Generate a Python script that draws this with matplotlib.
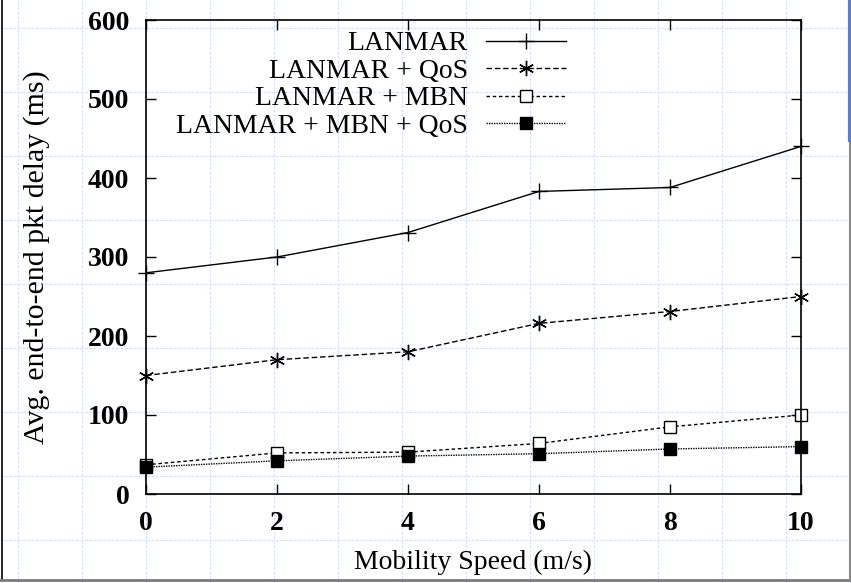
import matplotlib
matplotlib.use("Agg")
import matplotlib.pyplot as plt

plt.rcParams['font.family'] = ['Liberation Serif', 'DejaVu Serif']

# data
speeds = [0, 2, 4, 6, 8, 10]
lanmar = [280, 300, 331, 383, 388, 440]
lanmar_qos = [150, 170, 180, 216, 231, 250]
lanmar_mbn = [37, 52, 53, 64, 85, 100]
lanmar_mbn_qos = [34, 42, 48, 51, 57, 60]

series_names = ["LANMAR", "LANMAR + QoS", "LANMAR + MBN", "LANMAR + MBN + QoS"]
x_ticks = [0, 2, 4, 6, 8, 10]
y_ticks = [0, 100, 200, 300, 400, 500, 600]

W, H = 851, 583
fig = plt.figure(figsize=(W / 100, H / 100), dpi=100)

# page background with the light blue dashed grid
bg = fig.add_axes([0, 0, 1, 1], zorder=0)
bg.set_xlim(0, W)
bg.set_ylim(H, 0)
bg.axis('off')
grid_col = '#d3dff8'
for gx in range(18, W, 64):
    bg.axvline(gx, color=grid_col, lw=0.8, ls=(0, (2.5, 1.5)))
for gy in range(28, H, 64):
    bg.axhline(gy, color=grid_col, lw=0.8, ls=(0, (2.5, 1.5)))
bg.plot([2, 2], [0, 579], color='black', lw=1.2)
bg.plot([0, W], [580, 580], color='#7a7a7a', lw=2)
bg.plot([849.5, 849.5], [140, 580], color='#8a8a8a', lw=1.5)
bg.plot([849.5, 849.5], [0, 140], color='#5b7bd5', lw=3)

ax = fig.add_axes([146 / W, 1 - 494 / H, (801 - 146) / W, (494 - 20) / H], zorder=1)
ax.patch.set_visible(False)

lw = 1.0
ax.plot(speeds, lanmar, color='black', lw=lw, ls='-', marker='+',
        ms=11, mew=1.0, label=series_names[0], clip_on=False)
ax.plot(speeds, lanmar_qos, color='black', lw=lw, ls=(0, (4, 2)),
        marker=(6, 2, 0), ms=11, mew=1.0, label=series_names[1], clip_on=False)
ax.plot(speeds, lanmar_mbn, color='black', lw=lw, ls=(0, (2.5, 2)),
        marker='s', ms=8, mfc='white', mew=1.0, label=series_names[2], clip_on=False)
ax.plot(speeds, lanmar_mbn_qos, color='black', lw=lw, ls=(0, (1, 0.8)),
        marker='s', ms=8, mfc='black', mew=1.0, label=series_names[3], clip_on=False)

ax.set_xlim(0, 10)
ax.set_ylim(0, 600)
ax.set_xticks(x_ticks)
ax.set_yticks(y_ticks)
ax.tick_params(direction='in', length=7, width=1, top=True, right=True,
               labelsize=20, pad=12)
for lab in ax.get_xticklabels() + ax.get_yticklabels():
    lab.set_fontweight('bold')
for s in ax.spines.values():
    s.set_linewidth(1.2)

ax.set_xlabel("Mobility Speed (m/s)", fontsize=20, labelpad=10)
ax.set_ylabel("Avg. end-to-end pkt delay (ms)", fontsize=21.5, labelpad=27)

leg = ax.legend(loc='upper left', bbox_to_anchor=(0.02, 1.012), frameon=False,
                fontsize=20, markerfirst=False, handlelength=2.9,
                handletextpad=0.65, labelspacing=0.075, borderaxespad=0.2)
for t in leg.get_texts():
    t.set_ha('right')

fig.savefig("out.png", dpi=100)
